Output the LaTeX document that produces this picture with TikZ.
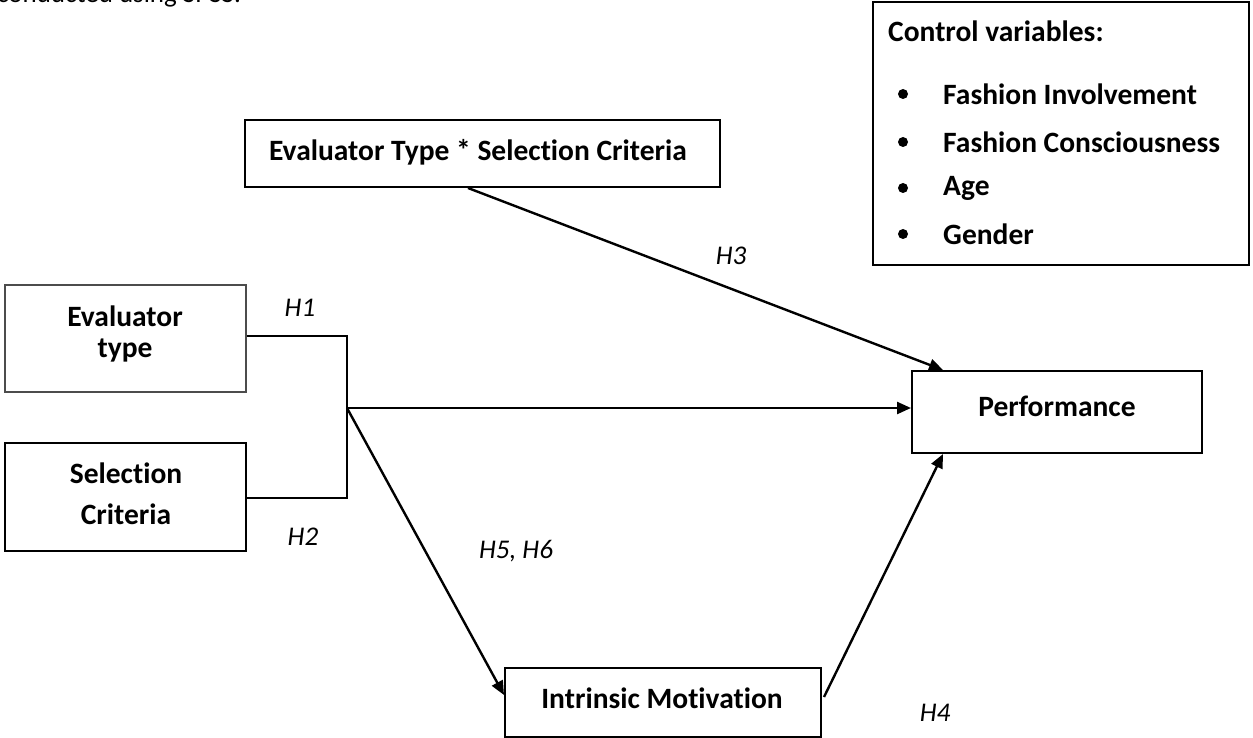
\documentclass[tikz,border=0pt]{standalone}
\usepackage{fontspec}
\setmainfont{Carlito}[Ligatures=NoCommon]
\usetikzlibrary{arrows.meta}
\begin{document}
\begin{tikzpicture}[x=1pt,y=-1pt,
  box/.style={draw,line width=2pt,inner sep=0pt},
  lbl/.style={font=\fontsize{29.5}{36}\selectfont\bfseries,align=center,inner sep=0pt},
  hyp/.style={font=\fontsize{27}{32}\selectfont\itshape,inner sep=0pt},
  conn/.style={line width=2.4pt},
  arr/.style={conn,-{Triangle[length=14pt,width=12pt]}}]
\path[use as bounding box] (0,0) rectangle (1253,738);
\begin{scope}
\clip (0,0) rectangle (1253,738);
\node[anchor=base west,inner sep=0pt,font=\fontsize{27}{32}\selectfont] (top) at (-3,3) {conducted using SPSS.};
\end{scope}
% boxes
\node[box,minimum width=376pt,minimum height=263pt] (ctrl) at (1061,133.5) {};
\node[box,minimum width=475pt,minimum height=67pt] (inter) at (482.5,153.5) {};
\node[box,line width=1.2pt,draw=black!70,minimum width=241pt,minimum height=107pt] (eval) at (125.5,338.5) {};
\node[box,minimum width=241pt,minimum height=108pt] (sel) at (125.5,497) {};
\node[box,minimum width=290pt,minimum height=82pt] (perf) at (1057,412) {};
\node[box,minimum width=316pt,minimum height=69pt] (intr) at (663,702.5) {};
% texts
\node[lbl] (intert) at (478,152) {Evaluator Type * Selection Criteria};
\node[lbl] (evalt1) at (125,316) {Evaluator};
\node[lbl] (evalt2) at (125,351) {type};
\node[lbl] (selt1) at (126,473) {Selection};
\node[lbl] (selt2) at (126,514) {Criteria};
\node[lbl] (perft) at (1057,406) {Performance};
\node[lbl] (intrt) at (662,698) {Intrinsic Motivation};
\node[lbl,anchor=west] (ctrlt) at (888,31) {Control variables:};
\foreach \y/\t [count=\i] in {94/Fashion Involvement,142/Fashion Consciousness,188/Age,234/Gender}{
  \fill (903,\y) circle (5pt);
  \node[lbl,anchor=west] (item\i) at (943,\y) {\t};
}
% connectors
\coordinate (J) at (347,408);
\draw[conn] (eval.east |- 0,336) -- (347,336) -- (347,498) -- (sel.east |- 0,498);
\draw[arr] (J) -- (J -| perf.west);
\draw[arr] (J) -- (intr.west |- 0,695);
\draw[arr] (inter.south -| 468,0) -- (perf.north -| 943,0);
\draw[arr] (824,697) -- (perf.south -| 943,0);
% hypothesis labels
\node[hyp] (h1) at (300,308) {H1};
\node[hyp] (h2) at (303,537) {H2};
\node[hyp] (h3) at (731,256) {H3};
\node[hyp] (h56) at (516,551) {H5, H6};
\node[hyp] (h4) at (935,713) {H4};
\end{tikzpicture}
\end{document}
